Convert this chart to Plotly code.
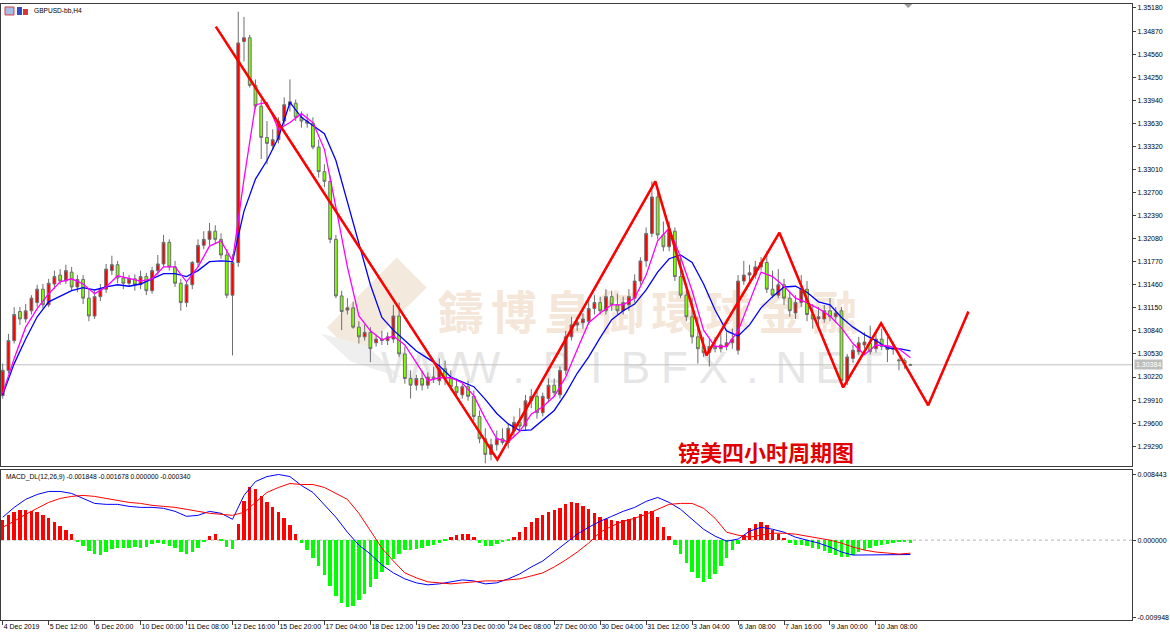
import base64
import plotly.graph_objects as go

W, H = 1170, 638

# ---------------- data ----------------
open_ = [
    1.2997, 1.3031, 1.3071, 1.3110, 1.3100, 1.3111, 1.3122, 1.3140, 1.3119, 1.3147,
    1.3159, 1.3151, 1.3163, 1.3143, 1.3153, 1.3128, 1.3104, 1.3130, 1.3140, 1.3165,
    1.3173, 1.3155, 1.3148, 1.3154, 1.3146, 1.3157, 1.3138, 1.3165, 1.3174, 1.3203,
    1.3170, 1.3148, 1.3122, 1.3146, 1.3176, 1.3199, 1.3207, 1.3218, 1.3207, 1.3186,
    1.3132, 1.3176, 1.3473, 1.3478, 1.3414, 1.3386, 1.3344, 1.3333, 1.3341, 1.3366,
    1.3388, 1.3390, 1.3371, 1.3366, 1.3363, 1.3331, 1.3298, 1.3285, 1.3207, 1.3131,
    1.3112, 1.3115, 1.3089, 1.3076, 1.3082, 1.3068, 1.3073, 1.3071, 1.3073, 1.3104,
    1.3053, 1.3020, 1.3011, 1.3020, 1.3011, 1.3022, 1.3017, 1.3033, 1.3020, 1.3009,
    1.2998, 1.3009, 1.2996, 1.2969, 1.2939, 1.2918, 1.2931, 1.2939, 1.2934, 1.2950,
    1.2961, 1.2956, 1.2990, 1.2996, 1.2974, 1.2993, 1.3011, 1.2998, 1.3031, 1.3076,
    1.3092, 1.3095, 1.3097, 1.3114, 1.3122, 1.3111, 1.3130, 1.3119, 1.3111, 1.3119,
    1.3128, 1.3151, 1.3178, 1.3215, 1.3264, 1.3213, 1.3197, 1.3218, 1.3157, 1.3132,
    1.3103, 1.3076, 1.3063, 1.3055, 1.3063, 1.3060, 1.3063, 1.3068, 1.3058, 1.3151,
    1.3159, 1.3159, 1.3170, 1.3176, 1.3140, 1.3132, 1.3146, 1.3128, 1.3108, 1.3122,
    1.3140, 1.3106, 1.3100, 1.3100, 1.3111, 1.3103, 1.3111, 1.3017, 1.3047, 1.3056,
    1.3065, 1.3067, 1.3060, 1.3073, 1.3063, 1.3059, 1.3045, 1.3044, 1.3038,
]
high = [
    1.3040, 1.3080, 1.3116, 1.3116, 1.3120, 1.3132, 1.3146, 1.3147, 1.3154, 1.3165,
    1.3167, 1.3173, 1.3170, 1.3159, 1.3159, 1.3140, 1.3138, 1.3147, 1.3174, 1.3185,
    1.3178, 1.3163, 1.3159, 1.3160, 1.3165, 1.3162, 1.3170, 1.3186, 1.3213, 1.3207,
    1.3178, 1.3154, 1.3151, 1.3178, 1.3207, 1.3218, 1.3229, 1.3226, 1.3215, 1.3194,
    1.3187, 1.3513, 1.3506, 1.3482, 1.3422, 1.3395, 1.3366, 1.3355, 1.3371, 1.3398,
    1.3422, 1.3395, 1.3379, 1.3376, 1.3371, 1.3341, 1.3308, 1.3293, 1.3213, 1.3138,
    1.3128, 1.3123, 1.3097, 1.3093, 1.3089, 1.3079, 1.3084, 1.3082, 1.3119, 1.3122,
    1.3063, 1.3031, 1.3025, 1.3031, 1.3028, 1.3036, 1.3047, 1.3044, 1.3031, 1.3020,
    1.3013, 1.3017, 1.3004, 1.2977, 1.2953, 1.2939, 1.2950, 1.2953, 1.2959, 1.2969,
    1.2980, 1.2998, 1.3006, 1.3004, 1.3001, 1.3020, 1.3020, 1.3036, 1.3084, 1.3103,
    1.3103, 1.3108, 1.3128, 1.3132, 1.3130, 1.3140, 1.3138, 1.3134, 1.3130, 1.3140,
    1.3160, 1.3183, 1.3223, 1.3285, 1.3274, 1.3231, 1.3231, 1.3223, 1.3183, 1.3140,
    1.3128, 1.3103, 1.3076, 1.3073, 1.3076, 1.3080, 1.3082, 1.3087, 1.3159, 1.3178,
    1.3173, 1.3178, 1.3183, 1.3191, 1.3165, 1.3167, 1.3154, 1.3138, 1.3132, 1.3159,
    1.3151, 1.3120, 1.3116, 1.3119, 1.3128, 1.3116, 1.3116, 1.3053, 1.3065, 1.3076,
    1.3082, 1.3091, 1.3084, 1.3087, 1.3076, 1.3069, 1.3047, 1.3047, 1.3040,
]
low = [
    1.2993, 1.3027, 1.3067, 1.3092, 1.3095, 1.3106, 1.3116, 1.3114, 1.3116, 1.3140,
    1.3146, 1.3147, 1.3138, 1.3136, 1.3120, 1.3097, 1.3100, 1.3124, 1.3135, 1.3159,
    1.3148, 1.3140, 1.3143, 1.3138, 1.3140, 1.3132, 1.3134, 1.3159, 1.3170, 1.3165,
    1.3143, 1.3111, 1.3116, 1.3140, 1.3170, 1.3194, 1.3199, 1.3202, 1.3181, 1.3128,
    1.3051, 1.3170, 1.3446, 1.3411, 1.3382, 1.3315, 1.3308, 1.3328, 1.3336, 1.3361,
    1.3379, 1.3366, 1.3357, 1.3357, 1.3328, 1.3290, 1.3277, 1.3202, 1.3128, 1.3085,
    1.3106, 1.3087, 1.3067, 1.3071, 1.3042, 1.3063, 1.3065, 1.3065, 1.3068, 1.3049,
    1.3013, 1.2993, 1.3004, 1.3004, 1.3006, 1.3014, 1.3011, 1.3011, 1.3004, 1.2996,
    1.2993, 1.2990, 1.2963, 1.2933, 1.2906, 1.2910, 1.2923, 1.2931, 1.2926, 1.2942,
    1.2950, 1.2950, 1.2980, 1.2966, 1.2969, 1.2988, 1.2996, 1.2993, 1.3025, 1.3071,
    1.3084, 1.3087, 1.3092, 1.3106, 1.3106, 1.3106, 1.3111, 1.3106, 1.3106, 1.3111,
    1.3122, 1.3146, 1.3170, 1.3210, 1.3207, 1.3191, 1.3191, 1.3151, 1.3128, 1.3097,
    1.3067, 1.3040, 1.3049, 1.3036, 1.3055, 1.3055, 1.3058, 1.3060, 1.3052, 1.3146,
    1.3151, 1.3154, 1.3165, 1.3135, 1.3128, 1.3128, 1.3119, 1.3103, 1.3100, 1.3116,
    1.3097, 1.3087, 1.3092, 1.3095, 1.3097, 1.3095, 1.3009, 1.3011, 1.3041, 1.3052,
    1.3060, 1.3052, 1.3055, 1.3058, 1.3042, 1.3052, 1.3031, 1.3033, 1.3037,
]
close = [
    1.3031, 1.3071, 1.3106, 1.3100, 1.3111, 1.3128, 1.3140, 1.3119, 1.3148, 1.3157,
    1.3151, 1.3165, 1.3143, 1.3153, 1.3128, 1.3104, 1.3130, 1.3140, 1.3167, 1.3173,
    1.3155, 1.3148, 1.3154, 1.3146, 1.3157, 1.3138, 1.3165, 1.3174, 1.3203, 1.3170,
    1.3148, 1.3122, 1.3146, 1.3176, 1.3199, 1.3207, 1.3218, 1.3207, 1.3186, 1.3132,
    1.3176, 1.3471, 1.3478, 1.3414, 1.3386, 1.3344, 1.3336, 1.3341, 1.3366, 1.3388,
    1.3392, 1.3371, 1.3366, 1.3363, 1.3331, 1.3298, 1.3285, 1.3207, 1.3131, 1.3110,
    1.3115, 1.3089, 1.3076, 1.3082, 1.3060, 1.3073, 1.3071, 1.3076, 1.3104, 1.3053,
    1.3020, 1.3011, 1.3020, 1.3011, 1.3022, 1.3020, 1.3033, 1.3020, 1.3009, 1.3001,
    1.3009, 1.2996, 1.2969, 1.2939, 1.2918, 1.2931, 1.2939, 1.2934, 1.2953, 1.2961,
    1.2956, 1.2990, 1.2996, 1.2974, 1.2996, 1.3011, 1.3001, 1.3031, 1.3076, 1.3092,
    1.3095, 1.3100, 1.3114, 1.3122, 1.3111, 1.3130, 1.3119, 1.3111, 1.3122, 1.3130,
    1.3151, 1.3178, 1.3215, 1.3264, 1.3213, 1.3197, 1.3221, 1.3157, 1.3132, 1.3103,
    1.3076, 1.3060, 1.3055, 1.3063, 1.3060, 1.3065, 1.3068, 1.3073, 1.3151, 1.3159,
    1.3162, 1.3170, 1.3176, 1.3140, 1.3132, 1.3146, 1.3128, 1.3111, 1.3122, 1.3140,
    1.3106, 1.3100, 1.3103, 1.3111, 1.3103, 1.3108, 1.3017, 1.3049, 1.3058, 1.3068,
    1.3069, 1.3056, 1.3073, 1.3063, 1.3059, 1.3060, 1.3044, 1.3040, 1.30384,
]
bars = list(range(len(close)))

# moving averages, read every second bar
ma_idx = list(range(0, 159, 2))
ma_fast = [  # magenta
    1.3000, 1.3047, 1.3089, 1.3114, 1.3134, 1.3150, 1.3154, 1.3147, 1.3134, 1.3143,
    1.3158, 1.3155, 1.3151, 1.3154, 1.3170, 1.3170, 1.3150, 1.3170, 1.3198, 1.3205,
    1.3178, 1.3288, 1.3388, 1.3391, 1.3355, 1.3364, 1.3376, 1.3364, 1.3328, 1.3250,
    1.3170, 1.3104, 1.3084, 1.3072, 1.3077, 1.3065, 1.3041, 1.3017, 1.3021, 1.3021,
    1.3014, 1.2997, 1.2966, 1.2939, 1.2935, 1.2949, 1.2972, 1.2982, 1.2996, 1.3022,
    1.3059, 1.3095, 1.3108, 1.3119, 1.3119, 1.3128, 1.3159, 1.3205, 1.3222, 1.3183,
    1.3138, 1.3085, 1.3063, 1.3063, 1.3084, 1.3123, 1.3163, 1.3157, 1.3144, 1.3128,
    1.3122, 1.3114, 1.3104, 1.3088, 1.3067, 1.3052, 1.3065, 1.3064, 1.3060, 1.3048,
]
ma_slow = [  # blue
    1.2998, 1.3040, 1.3073, 1.3103, 1.3123, 1.3131, 1.3138, 1.3142, 1.3139, 1.3143,
    1.3146, 1.3144, 1.3147, 1.3154, 1.3161, 1.3161, 1.3157, 1.3165, 1.3177, 1.3178,
    1.3177, 1.3245, 1.3288, 1.3313, 1.3344, 1.3391, 1.3371, 1.3360, 1.3349, 1.3313,
    1.3257, 1.3201, 1.3146, 1.3102, 1.3085, 1.3071, 1.3057, 1.3047, 1.3037, 1.3022,
    1.3016, 1.3009, 1.2992, 1.2973, 1.2959, 1.2950, 1.2951, 1.2964, 1.2977, 1.3000,
    1.3027, 1.3049, 1.3075, 1.3099, 1.3111, 1.3120, 1.3139, 1.3163, 1.3181, 1.3186,
    1.3176, 1.3147, 1.3112, 1.3084, 1.3077, 1.3092, 1.3115, 1.3130, 1.3143, 1.3144,
    1.3136, 1.3123, 1.3119, 1.3102, 1.3089, 1.3079, 1.3071, 1.3061, 1.3060, 1.3057,
]

# MACD_DL(12,26,9): histogram per bar, DIF / DEA every second bar
macd_hist = [
    0.00255, 0.00319, 0.00358, 0.00383, 0.00383, 0.00370, 0.00358, 0.00319, 0.00281, 0.00230,
    0.00179, 0.00128, 0.00077, -0.00026, -0.00077, -0.00140, -0.00179, -0.00192, -0.00153, -0.00115,
    -0.00102, -0.00102, -0.00102, -0.00089, -0.00102, -0.00089, -0.00051, -0.00038, -0.00051, -0.00077,
    -0.00102, -0.00153, -0.00179, -0.00153, -0.00102, -0.00026, 0.00051, 0.00077, -0.00013, -0.00089,
    -0.00115, 0.00204, 0.00498, 0.00677, 0.00651, 0.00562, 0.00485, 0.00421, 0.00358, 0.00281,
    0.00192, 0.00077, -0.00038, -0.00128, -0.00230, -0.00332, -0.00447, -0.00587, -0.00715, -0.00817,
    -0.00868, -0.00856, -0.00779, -0.00702, -0.00600, -0.00498, -0.00409, -0.00319, -0.00243, -0.00179,
    -0.00128, -0.00128, -0.00115, -0.00102, -0.00077, -0.00064, -0.00038, -0.00013, 0.00038, 0.00064,
    0.00077, 0.00077, 0.00038, -0.00038, -0.00077, -0.00077, -0.00051, -0.00026, -0.00013, 0.00038,
    0.00102, 0.00166, 0.00230, 0.00281, 0.00319, 0.00358, 0.00383, 0.00409, 0.00460, 0.00485,
    0.00472, 0.00434, 0.00396, 0.00345, 0.00294, 0.00268, 0.00255, 0.00243, 0.00255, 0.00268,
    0.00294, 0.00332, 0.00370, 0.00370, 0.00294, 0.00166, 0.00051, -0.00064, -0.00179, -0.00294,
    -0.00409, -0.00485, -0.00536, -0.00498, -0.00434, -0.00332, -0.00230, -0.00128, -0.00051, 0.00064,
    0.00153, 0.00204, 0.00230, 0.00192, 0.00128, 0.00077, 0.00026, -0.00038, -0.00064, -0.00064,
    -0.00077, -0.00102, -0.00115, -0.00140, -0.00166, -0.00192, -0.00217, -0.00217, -0.00192, -0.00153,
    -0.00128, -0.00102, -0.00077, -0.00064, -0.00051, -0.00038, -0.00026, -0.00026, -0.00034,
]
macd_dif = [
    0.00294, 0.00421, 0.00524, 0.00587, 0.00626, 0.00626, 0.00600, 0.00536, 0.00472, 0.00460,
    0.00460, 0.00434, 0.00421, 0.00421, 0.00409, 0.00370, 0.00306, 0.00319, 0.00370, 0.00345,
    0.00268, 0.00575, 0.00753, 0.00817, 0.00844, 0.00817, 0.00702, 0.00613, 0.00460, 0.00294,
    0.00102, -0.00064, -0.00179, -0.00319, -0.00421, -0.00498, -0.00549, -0.00575, -0.00562, -0.00536,
    -0.00511, -0.00524, -0.00562, -0.00549, -0.00498, -0.00434, -0.00345, -0.00268, -0.00153, -0.00026,
    0.00077, 0.00166, 0.00243, 0.00306, 0.00370, 0.00421, 0.00498, 0.00549, 0.00485, 0.00396,
    0.00268, 0.00140, 0.00051, -0.00013, 0.00013, 0.00115, 0.00166, 0.00140, 0.00102, 0.00038,
    0.00000, -0.00038, -0.00089, -0.00153, -0.00192, -0.00192, -0.00192, -0.00192, -0.00192, -0.00185,
]
macd_dea = [
    0.00166, 0.00243, 0.00332, 0.00409, 0.00485, 0.00536, 0.00562, 0.00575, 0.00562, 0.00536,
    0.00511, 0.00485, 0.00472, 0.00447, 0.00434, 0.00421, 0.00396, 0.00370, 0.00345, 0.00332,
    0.00319, 0.00358, 0.00485, 0.00613, 0.00677, 0.00728, 0.00715, 0.00715, 0.00677, 0.00600,
    0.00524, 0.00345, 0.00128, -0.00102, -0.00268, -0.00421, -0.00485, -0.00536, -0.00549, -0.00562,
    -0.00549, -0.00536, -0.00524, -0.00524, -0.00511, -0.00498, -0.00460, -0.00421, -0.00345, -0.00255,
    -0.00153, -0.00038, 0.00102, 0.00179, 0.00243, 0.00281, 0.00332, 0.00396, 0.00460, 0.00472,
    0.00472, 0.00409, 0.00281, 0.00102, 0.00064, 0.00038, 0.00064, 0.00089, 0.00089, 0.00077,
    0.00051, 0.00026, 0.00000, -0.00038, -0.00089, -0.00128, -0.00153, -0.00166, -0.00179, -0.00168,
]
macd_title = "MACD_DL(12,26,9) -0.001848 -0.001678 0.000000 -0.000340"

# hand-drawn zig-zag (bar position, price)
zz_idx = [37.1, 86.1, 113.6, 122.5, 135.2, 146.3, 152.9, 161.1, 168.1]
zz_price = [1.3493, 1.2911, 1.3285, 1.3051, 1.3216, 1.3008, 1.3094, 1.2984, 1.3110]

time_idx = [0, 8, 16, 24, 32, 40, 48, 56, 64, 72, 80, 88, 96, 104, 112, 120, 128, 136, 144, 152]
time_labels = ["4 Dec 2019", "5 Dec 12:00", "6 Dec 20:00", "10 Dec 00:00", "11 Dec 08:00",
               "12 Dec 16:00", "15 Dec 20:00", "17 Dec 04:00", "18 Dec 12:00", "19 Dec 20:00",
               "23 Dec 00:00", "24 Dec 08:00", "27 Dec 00:00", "30 Dec 04:00", "31 Dec 12:00",
               "3 Jan 04:00", "6 Jan 08:00", "7 Jan 16:00", "9 Jan 00:00", "10 Jan 08:00"]
price_ticks = [1.35180, 1.34870, 1.34560, 1.34250, 1.33940, 1.33630, 1.33320, 1.33010,
               1.32700, 1.32390, 1.32080, 1.31770, 1.31460, 1.31150, 1.30840, 1.30530,
               1.30220, 1.29910, 1.29600, 1.29290]
macd_ticks = [0.008443, 0.0, -0.009948]
last_price = 1.30384
symbol_label = "GBPUSD-bb,H4"
chart_title = "镑美四小时周期图"

assert len(open_) == len(high) == len(low) == len(close) == len(macd_hist) == 159
assert len(ma_fast) == len(ma_slow) == len(macd_dif) == len(macd_dea) == len(ma_idx)

# ---------------- layout geometry ----------------
PLOT_R = 1132.0


def fx(p):
    return p / W


def fy(p):
    return 1 - p / H


X_RANGE = [-0.2957, (PLOT_R - 1.7) / 5.75]
Y_RANGE = [1.290202, 1.352337]
Y2_RANGE = [-0.010269, 0.008982]

UP = "#FF0000"
DOWN = "#7FFF00"
WICK = "#6E6E6E"
FONT = "Liberation Sans"

fig = go.Figure()
fig.add_trace(go.Candlestick(
    x=bars, open=open_, high=high, low=low, close=close,
    increasing=dict(fillcolor=UP, line=dict(color=WICK, width=1)),
    decreasing=dict(fillcolor=DOWN, line=dict(color=WICK, width=1)),
    whiskerwidth=0, showlegend=False, hoverinfo="skip",
    xaxis="x", yaxis="y"))
fig.add_trace(go.Scatter(x=ma_idx, y=ma_slow, mode="lines",
                         line=dict(color="#0000FF", width=1.3), showlegend=False,
                         hoverinfo="skip", xaxis="x", yaxis="y"))
fig.add_trace(go.Scatter(x=ma_idx, y=ma_fast, mode="lines",
                         line=dict(color="#FF00FF", width=1.3), showlegend=False,
                         hoverinfo="skip", xaxis="x", yaxis="y"))
fig.add_trace(go.Scatter(x=zz_idx, y=zz_price, mode="lines",
                         line=dict(color="#FF0000", width=2.6), showlegend=False,
                         hoverinfo="skip", xaxis="x", yaxis="y"))

fig.add_trace(go.Bar(x=bars, y=macd_hist, width=0.6,
                     marker=dict(color=["#FF0000" if v >= 0 else "#00FF00" for v in macd_hist],
                                 line=dict(width=0)),
                     showlegend=False, hoverinfo="skip", xaxis="x2", yaxis="y2"))
fig.add_trace(go.Scatter(x=ma_idx, y=macd_dif, mode="lines",
                         line=dict(color="#0000FF", width=1), showlegend=False,
                         hoverinfo="skip", xaxis="x2", yaxis="y2"))
fig.add_trace(go.Scatter(x=ma_idx, y=macd_dea, mode="lines",
                         line=dict(color="#FF0000", width=1), showlegend=False,
                         hoverinfo="skip", xaxis="x2", yaxis="y2"))

# ---------------- watermark (svg image below the plot) ----------------
wm_parts = [
    '<svg xmlns="http://www.w3.org/2000/svg" width="620" height="140" viewBox="0 0 620 140">',
    '<polygon points="96,8 126,38 56,108 26,78" fill="#F4E9DD"/>',
    '<polygon points="20,84 50,112 100,128 66,96" fill="#EFEFEF"/>',
    '<text x="137" y="80" font-family="Noto Sans CJK TC" font-size="46" font-weight="bold" '
    'letter-spacing="7.5" fill="#F4E7D9">鑄博皇御環球金融</text>',
]
for k, ch in enumerate("WWW.BIBFX.NET"):
    wm_parts.append('<text x="%d" y="134" text-anchor="middle" font-family="Liberation Sans" '
                    'font-size="44" fill="#E6E6E6">%s</text>' % (101 + 39 * k, ch))
wm_parts.append('</svg>')
wm_src = "data:image/svg+xml;base64," + base64.b64encode("".join(wm_parts).encode("utf-8")).decode()

axis_line = "#3C3C3C"
tickfont = dict(family=FONT, size=7, color="#000000")

fig.update_layout(
    width=W, height=H, autosize=False,
    margin=dict(l=0, r=0, t=0, b=0),
    paper_bgcolor="#FFFFFF", plot_bgcolor="rgba(0,0,0,0)",
    bargap=0, showlegend=False,
    images=[dict(source=wm_src, xref="paper", yref="paper", x=fx(300), y=fy(250),
                 sizex=fx(620), sizey=140 / H, xanchor="left", yanchor="top",
                 sizing="stretch", layer="below")],
    xaxis=dict(domain=[0, fx(PLOT_R)], range=X_RANGE, anchor="y",
               showticklabels=False, ticks="", showgrid=False, zeroline=False,
               showline=True, mirror=True, linecolor=axis_line, linewidth=1,
               rangeslider=dict(visible=False), fixedrange=True),
    yaxis=dict(domain=[fy(467), fy(4)], range=Y_RANGE, anchor="x", side="right",
               tickvals=price_ticks, ticktext=["%.5f" % v for v in price_ticks],
               ticks="outside", ticklen=3, tickcolor=axis_line, tickfont=tickfont,
               showgrid=False, zeroline=False, showline=True, mirror=True,
               linecolor=axis_line, linewidth=1),
    xaxis2=dict(domain=[0, fx(PLOT_R)], range=X_RANGE, anchor="y2", matches="x",
                tickvals=time_idx, ticktext=time_labels, ticks="outside", ticklen=4,
                tickangle=0, tickcolor=axis_line, ticklabelposition="outside right",
                tickfont=tickfont, showgrid=False, zeroline=False, showline=True,
                mirror=True, linecolor=axis_line, linewidth=1),
    yaxis2=dict(domain=[fy(621), fy(471)], range=Y2_RANGE, anchor="x2", side="right",
                tickvals=macd_ticks, ticktext=["%.6f" % v for v in macd_ticks],
                ticks="outside", ticklen=3, tickcolor=axis_line, tickfont=tickfont,
                showgrid=False, zeroline=False, showline=True, mirror=True,
                linecolor=axis_line, linewidth=1),
    shapes=[
        dict(type="line", xref="paper", yref="y", x0=0, x1=fx(PLOT_R), y0=last_price, y1=last_price,
             line=dict(color="#C0C0C0", width=1), layer="below"),
        dict(type="line", xref="paper", yref="y2", x0=0, x1=fx(PLOT_R), y0=0, y1=0,
             line=dict(color="#B4B4B4", width=1, dash="dot"), layer="below"),
        dict(type="rect", xref="paper", yref="paper", x0=fx(4), x1=fx(13), y0=fy(15), y1=fy(7),
             fillcolor="#A9BCE6", line=dict(color="#D04040", width=1)),
        dict(type="rect", xref="paper", yref="paper", x0=fx(16), x1=fx(21), y0=fy(15), y1=fy(7),
             fillcolor="#2E4FC4", line=dict(width=0)),
        dict(type="rect", xref="paper", yref="paper", x0=fx(22), x1=fx(27), y0=fy(15), y1=fy(9),
             fillcolor="#D43A3A", line=dict(width=0)),
        dict(type="path", xref="paper", yref="paper",
             path="M %f,%f L %f,%f L %f,%f Z" % (fx(904), fy(4), fx(912), fy(4), fx(908), fy(8)),
             fillcolor="#9A9A9A", line=dict(width=0)),
    ],
    annotations=[
        dict(text=symbol_label, xref="paper", yref="paper", x=fx(31), y=fy(11),
             xanchor="left", yanchor="middle", showarrow=False,
             font=dict(family=FONT, size=6.6, color="#000000")),
        dict(text=macd_title, xref="paper", yref="paper", x=fx(3), y=fy(478),
             xanchor="left", yanchor="middle", showarrow=False,
             font=dict(family=FONT, size=6.7, color="#000000")),
        dict(text=chart_title, xref="paper", yref="paper", x=fx(766), y=fy(452),
             xanchor="center", yanchor="middle", showarrow=False,
             font=dict(family="Noto Sans CJK SC", size=22, color="#E00000", weight="bold")),
        dict(text="%.5f" % last_price, xref="paper", yref="y", x=fx(PLOT_R + 2), y=last_price,
             xanchor="left", yanchor="middle", showarrow=False, bgcolor="#BDBDBD",
             borderpad=1, font=dict(family=FONT, size=7, color="#FFFFFF")),
    ],
)

fig.write_html(
    "out.html",
    config={"responsive": False, "displayModeBar": False},
    default_width="1170px", default_height="638px",
    post_script=("document.body.style.margin='0px';"
                 "document.body.style.overflow='hidden';"
                 "var gd=document.getElementById('{plot_id}');"
                 "Plotly.relayout(gd,{width:1170,height:638});"),
)
